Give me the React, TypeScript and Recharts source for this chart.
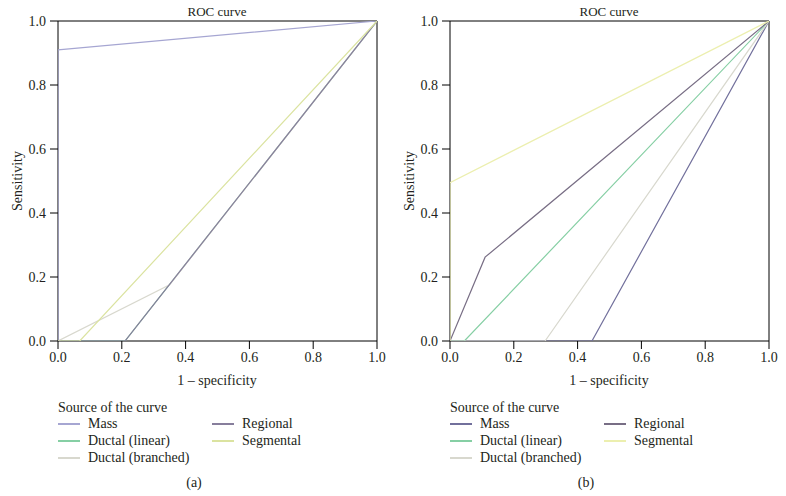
import { Line, LineChart, ReferenceLine, XAxis, YAxis } from "recharts";

type Pt = { x: number; y: number };

const SERIES = ["Mass", "Ductal (linear)", "Ductal (branched)", "Regional", "Segmental"];
const TICKS = [0, 0.2, 0.4, 0.6, 0.8, 1];

// panel (a)
const massA: Pt[] = [{ x: 0, y: 0 }, { x: 0, y: 0.91 }, { x: 1, y: 1 }];
const linearA: Pt[] = [{ x: 0, y: 0 }, { x: 0.21, y: 0 }, { x: 1, y: 1 }];
const branchedA: Pt[] = [{ x: 0, y: 0 }, { x: 0.35, y: 0.176 }, { x: 1, y: 1 }];
const regionalA: Pt[] = [{ x: 0, y: 0 }, { x: 0.21, y: 0 }, { x: 1, y: 1 }];
const segmentalA: Pt[] = [{ x: 0, y: 0 }, { x: 0.068, y: 0 }, { x: 1, y: 1 }];

// panel (b)
const massB: Pt[] = [{ x: 0, y: 0 }, { x: 0.445, y: 0 }, { x: 1, y: 1 }];
const linearB: Pt[] = [{ x: 0, y: 0 }, { x: 0.045, y: 0 }, { x: 1, y: 1 }];
const branchedB: Pt[] = [{ x: 0, y: 0 }, { x: 0.298, y: 0 }, { x: 1, y: 1 }];
const regionalB: Pt[] = [{ x: 0, y: 0 }, { x: 0.11, y: 0.262 }, { x: 1, y: 1 }];
const segmentalB: Pt[] = [{ x: 0, y: 0 }, { x: 0, y: 0.495 }, { x: 1, y: 1 }];

const COLORS_A = ["#a6a6d2", "#86cfa4", "#d8d8ce", "#877e9c", "#dbe3a0"];
const COLORS_B = ["#72709c", "#86cfa4", "#d8d8ce", "#786e85", "#ecefaf"];

const FONT = "Liberation Serif, DejaVu Serif, serif";
const INK = "#231f20";

interface PanelProps {
  left: number;
  tag: string;
  series: Pt[][];
  colors: string[];
}

function Panel({ left, tag, series, colors }: PanelProps) {
  const text = (x: number, y: number, s: string, size = 14) => (
    <div
      style={{
        position: "absolute",
        left: left + x - 100,
        top: y - 9,
        width: 200,
        textAlign: "center",
        fontSize: size,
        lineHeight: "18px",
        color: INK
      }}
    >
      {s}
    </div>
  );

  return (
    <>
      <div style={{ position: "absolute", left, top: 0 }}>
        <LineChart
          width={393}
          height={400}
          margin={{ top: 21, left: 0, right: 16, bottom: 0 }}
          style={{ fontFamily: FONT }}
        >
          <XAxis
            type="number"
            dataKey="x"
            domain={[0, 1]}
            ticks={TICKS}
            allowDataOverflow
            height={59}
            tickSize={8}
            tickMargin={3}
            stroke="#000"
            zIndex={100}
            tickFormatter={(v: number) => v.toFixed(1)}
            tick={{ fill: INK, fontSize: 14, fontFamily: FONT }}
          />
          <YAxis
            type="number"
            dataKey="y"
            domain={[0, 1]}
            ticks={TICKS}
            allowDataOverflow
            width={58}
            tickSize={8}
            tickMargin={4}
            stroke="#000"
            zIndex={100}
            tickFormatter={(v: number) => v.toFixed(1)}
            tick={{ fill: INK, fontSize: 14, fontFamily: FONT }}
          />
          <ReferenceLine y={1} stroke="#000" zIndex={100} />
          <ReferenceLine x={1} stroke="#000" zIndex={100} />
          {series.map((d, i) => (
            <Line
              key={SERIES[i]}
              data={d}
              dataKey="y"
              type="linear"
              stroke={colors[i]}
              strokeWidth={1.2}
              dot={false}
              activeDot={false}
              isAnimationActive={false}
            />
          ))}
        </LineChart>
      </div>
      {text(217, 12, "ROC curve", 13)}
      <div
        style={{
          position: "absolute",
          left: left + 18 - 50,
          top: 181 - 9,
          width: 100,
          textAlign: "center",
          fontSize: 14,
          lineHeight: "18px",
          color: INK,
          transform: "rotate(-90deg)"
        }}
      >
        Sensitivity
      </div>
      {text(217, 381, "1 \u2013 specificity")}
      <div
        style={{
          position: "absolute",
          left: left + 58,
          top: 408 - 9,
          fontSize: 14,
          lineHeight: "18px",
          color: INK
        }}
      >
        Source of the curve
      </div>
      {SERIES.map((name, i) => {
        const col = i < 3 ? 0 : 1;
        const row = i < 3 ? i : i - 3;
        const x = left + (col === 0 ? 58 : 212);
        const y = 424 + row * 17;
        return (
          <div
            key={name}
            style={{
              position: "absolute",
              left: x,
              top: y - 9,
              display: "flex",
              alignItems: "center",
              fontSize: 14,
              lineHeight: "18px",
              color: INK,
              whiteSpace: "nowrap"
            }}
          >
            <span
              style={{
                display: "inline-block",
                width: 22,
                height: 1.5,
                background: colors[i],
                marginRight: 8
              }}
            />
            {name}
          </div>
        );
      })}
      {text(194, 483, tag)}
    </>
  );
}

export default function App() {
  return (
    <div
      style={{
        position: "absolute",
        left: 0,
        top: 0,
        width: 786,
        height: 496,
        background: "#fff",
        fontFamily: FONT
      }}
    >
      <Panel
        left={0}
        tag="(a)"
        series={[massA, linearA, branchedA, regionalA, segmentalA]}
        colors={COLORS_A}
      />
      <Panel
        left={392}
        tag="(b)"
        series={[massB, linearB, branchedB, regionalB, segmentalB]}
        colors={COLORS_B}
      />
    </div>
  );
}
